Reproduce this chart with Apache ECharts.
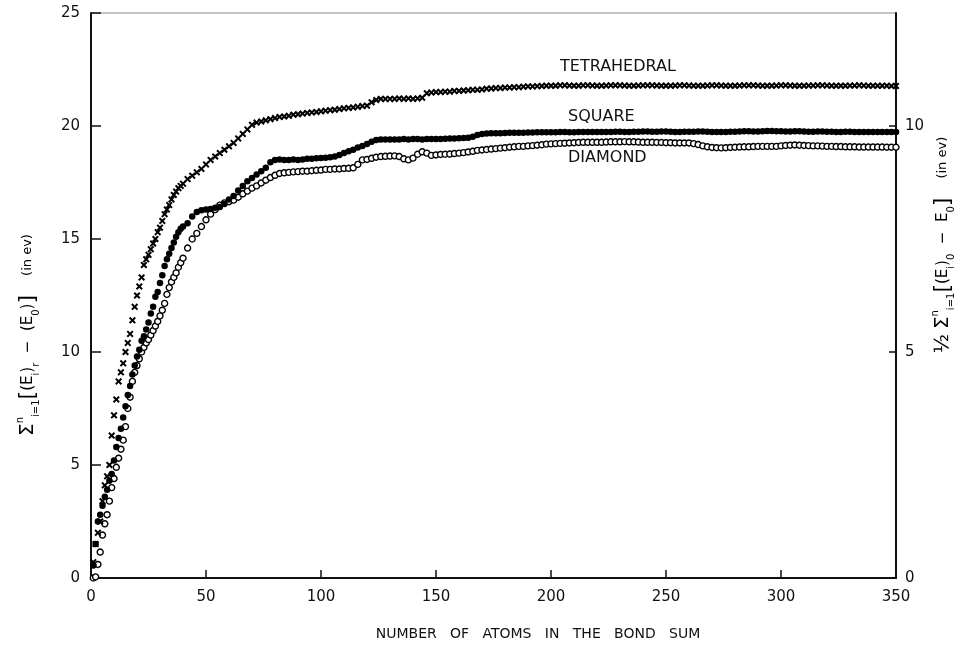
<!DOCTYPE html>
<html>
<head>
<meta charset="utf-8">
<script src="https://cdn.jsdelivr.net/npm/echarts@6/dist/echarts.min.js"></script>
<style>
  html, body { margin: 0; padding: 0; background: #fff; }
  #chart { width: 969px; height: 646px; }
</style>
</head>
<body>
<div id="chart"></div>
<script>
// number of atoms in the bond sum (one point per atom early on, then every 2nd)
const atoms = [
  1, 2, 3, 4, 5, 6, 7, 8, 9, 10, 11, 12, 13, 14, 15, 16, 17, 18, 19, 20,
  21, 22, 23, 24, 25, 26, 27, 28, 29, 30, 31, 32, 33, 34, 35, 36, 37, 38, 39, 40,
  42, 44, 46, 48, 50, 52, 54, 56, 58, 60, 62, 64, 66, 68, 70, 72, 74, 76, 78, 80,
  82, 84, 86, 88, 90, 92, 94, 96, 98, 100,
  102, 104, 106, 108, 110, 112, 114, 116, 118, 120, 122, 124, 126, 128, 130, 132, 134, 136, 138, 140,
  142, 144, 146, 148, 150, 152, 154, 156, 158, 160, 162, 164, 166, 168, 170, 172, 174, 176, 178, 180,
  182, 184, 186, 188, 190, 192, 194, 196, 198, 200,
  202, 204, 206, 208, 210, 212, 214, 216, 218, 220, 222, 224, 226, 228, 230, 232, 234, 236, 238, 240,
  242, 244, 246, 248, 250, 252, 254, 256, 258, 260, 262, 264, 266, 268, 270, 272, 274, 276, 278, 280,
  282, 284, 286, 288, 290, 292, 294, 296, 298, 300, 302, 304, 306, 308, 310, 312, 314, 316, 318, 320,
  322, 324, 326, 328, 330, 332, 334, 336, 338, 340, 342, 344, 346, 348, 350
];

const tetrahedral = [
  0.7, 1.5, 2.0, 2.5, 3.4, 4.1, 4.5, 5.0, 6.3, 7.2, 7.9, 8.7, 9.1, 9.5, 10.0, 10.4, 10.8, 11.4, 12.0, 12.5,
  12.9, 13.3, 13.85, 14.1, 14.3, 14.55, 14.8, 15.0, 15.3, 15.5, 15.8, 16.1, 16.3, 16.5, 16.75, 16.95, 17.1, 17.25, 17.35, 17.45,
  17.65, 17.8, 17.95, 18.1, 18.3, 18.5, 18.65, 18.8, 18.95, 19.1, 19.25, 19.45, 19.65, 19.85, 20.05, 20.15, 20.2, 20.25, 20.3, 20.35,
  20.4, 20.42, 20.45, 20.5, 20.52, 20.55, 20.58, 20.6, 20.62, 20.65,
  20.68, 20.7, 20.72, 20.75, 20.78, 20.8, 20.82, 20.85, 20.88, 20.9, 21.05, 21.15, 21.2, 21.2, 21.2, 21.2, 21.22, 21.2, 21.22, 21.2,
  21.22, 21.25, 21.45, 21.48, 21.5, 21.5, 21.52, 21.52, 21.55, 21.55, 21.57, 21.58, 21.6, 21.6, 21.62, 21.65, 21.66, 21.68, 21.68, 21.7,
  21.7, 21.72, 21.72, 21.74, 21.75, 21.75, 21.76, 21.77, 21.78, 21.78,
  21.78, 21.8, 21.8, 21.79, 21.78, 21.78, 21.8, 21.8, 21.79, 21.78, 21.78, 21.79, 21.8, 21.8, 21.8, 21.79, 21.78, 21.78, 21.79, 21.8,
  21.8, 21.8, 21.79, 21.78, 21.78, 21.78, 21.79, 21.8, 21.8, 21.79, 21.78, 21.78, 21.78, 21.79, 21.8, 21.8, 21.79, 21.78, 21.78, 21.78,
  21.79, 21.8, 21.8, 21.8, 21.79, 21.78, 21.78, 21.78, 21.79, 21.8, 21.8, 21.79, 21.78, 21.78, 21.78, 21.79, 21.79, 21.8, 21.8, 21.79,
  21.78, 21.78, 21.78, 21.78, 21.79, 21.79, 21.8, 21.79, 21.78, 21.78, 21.78, 21.78, 21.78, 21.77, 21.77
];

const square = [
  0.55, 1.5, 2.5, 2.8, 3.2, 3.6, 3.9, 4.3, 4.6, 5.2, 5.8, 6.2, 6.6, 7.1, 7.6, 8.1, 8.5, 9.0, 9.4, 9.8,
  10.1, 10.5, 10.7, 11.0, 11.3, 11.7, 12.0, 12.45, 12.65, 13.05, 13.4, 13.8, 14.1, 14.35, 14.6, 14.85, 15.1, 15.3, 15.45, 15.55,
  15.7, 16.0, 16.2, 16.27, 16.3, 16.33, 16.38, 16.42, 16.55, 16.75, 16.9, 17.15, 17.35, 17.55, 17.7, 17.85, 18.0, 18.15, 18.4, 18.5,
  18.52, 18.5, 18.5, 18.52, 18.5, 18.52, 18.55, 18.55, 18.57, 18.58,
  18.6, 18.62, 18.65, 18.72, 18.8, 18.88, 18.95, 19.05, 19.12, 19.2, 19.3, 19.38, 19.4, 19.4, 19.4, 19.4, 19.4, 19.42, 19.4, 19.42,
  19.42, 19.4, 19.42, 19.42, 19.43, 19.43, 19.44, 19.45, 19.45, 19.46, 19.47, 19.48, 19.52, 19.6, 19.65, 19.67, 19.68, 19.68, 19.68, 19.69,
  19.7, 19.7, 19.7, 19.7, 19.71, 19.71, 19.72, 19.72, 19.72, 19.72,
  19.72, 19.73, 19.73, 19.72, 19.72, 19.73, 19.74, 19.74, 19.73, 19.73, 19.73, 19.74, 19.74, 19.75, 19.75, 19.74, 19.74, 19.75, 19.75, 19.76,
  19.76, 19.75, 19.75, 19.76, 19.76, 19.75, 19.74, 19.74, 19.75, 19.75, 19.75, 19.76, 19.76, 19.75, 19.74, 19.74, 19.73, 19.74, 19.75, 19.75,
  19.76, 19.77, 19.77, 19.76, 19.76, 19.77, 19.78, 19.78, 19.77, 19.77, 19.76, 19.76, 19.77, 19.77, 19.76, 19.75, 19.75, 19.76, 19.76, 19.75,
  19.75, 19.74, 19.74, 19.75, 19.75, 19.74, 19.74, 19.73, 19.73, 19.74, 19.74, 19.73, 19.73, 19.73, 19.73
];

const diamond = [
  0.0, 0.05, 0.6, 1.15, 1.9, 2.4, 2.8, 3.4, 4.0, 4.4, 4.9, 5.3, 5.7, 6.1, 6.7, 7.5, 8.0, 8.7, 9.1, 9.4,
  9.7, 10.0, 10.2, 10.4, 10.55, 10.75, 10.95, 11.15, 11.35, 11.6, 11.85, 12.15, 12.55, 12.85, 13.1, 13.3, 13.5, 13.75, 13.95, 14.15,
  14.6, 15.0, 15.25, 15.55, 15.85, 16.1, 16.3, 16.5, 16.6, 16.65, 16.72, 16.85, 17.0, 17.12, 17.25, 17.35, 17.48, 17.6, 17.72, 17.82,
  17.9, 17.93, 17.95, 17.97, 17.98, 18.0, 18.0, 18.02, 18.04, 18.05,
  18.08, 18.08, 18.1, 18.1, 18.12, 18.13, 18.15, 18.3, 18.5, 18.52, 18.57, 18.62, 18.65, 18.66, 18.67, 18.68, 18.65, 18.55, 18.5, 18.58,
  18.75, 18.86, 18.8, 18.7, 18.72, 18.74, 18.75, 18.76, 18.78, 18.8, 18.82, 18.85, 18.88, 18.92, 18.94, 18.96, 18.98, 19.0, 19.02, 19.04,
  19.06, 19.08, 19.1, 19.1, 19.12, 19.13, 19.15, 19.17, 19.2, 19.21,
  19.22, 19.23, 19.24, 19.25, 19.26, 19.27, 19.28, 19.28, 19.28, 19.28, 19.28, 19.29, 19.3, 19.3, 19.3, 19.31, 19.3, 19.3, 19.29, 19.28,
  19.28, 19.28, 19.27, 19.27, 19.26, 19.26, 19.25, 19.25, 19.25, 19.25, 19.22, 19.18, 19.12, 19.08, 19.05, 19.04, 19.03, 19.04, 19.05, 19.06,
  19.07, 19.08, 19.08, 19.09, 19.1, 19.1, 19.1, 19.1, 19.1, 19.12, 19.14, 19.15, 19.16, 19.15, 19.14, 19.13, 19.12, 19.12, 19.11, 19.1,
  19.1, 19.09, 19.09, 19.08, 19.08, 19.08, 19.07, 19.07, 19.07, 19.07, 19.07, 19.07, 19.06, 19.06, 19.06
];

const curveNames = ['TETRAHEDRAL', 'SQUARE', 'DIAMOND'];
const xTitle = 'NUMBER   OF   ATOMS   IN   THE   BOND   SUM';

const FONT = 'DejaVu Sans';
const INK = '#111';

const pairs = ys => atoms.map((n, i) => [n, ys[i]]);

// cross marker for the tetrahedral curve (thick arms)
const CROSS = 'path://M0,2L2,0L5,3L8,0L10,2L7,5L10,8L8,10L5,7L2,10L0,8L3,5Z';

const mathRich = {
  t: { fontFamily: FONT, fontSize: 15, color: INK, lineHeight: 26 },
  sig: { fontFamily: FONT, fontSize: 20, color: INK, lineHeight: 26 },
  br: { fontFamily: FONT, fontSize: 22, color: INK, lineHeight: 26 },
  frac: { fontFamily: FONT, fontSize: 20, color: INK, lineHeight: 26 },
  sub: { fontFamily: FONT, fontSize: 10, color: INK, lineHeight: 12, verticalAlign: 'bottom' },
  sup: { fontFamily: FONT, fontSize: 10, color: INK, lineHeight: 12, verticalAlign: 'top' },
  u: { fontFamily: FONT, fontSize: 13, color: INK, lineHeight: 26 }
};

const chart = echarts.init(document.getElementById('chart'));

chart.setOption({
  animation: false,
  backgroundColor: '#fff',
  grid: {
    left: 91, right: 73, top: 13, bottom: 68,
    show: true, borderColor: '#888', borderWidth: 1
  },
  xAxis: {
    type: 'value', min: 0, max: 350, interval: 50,
    axisLine: { lineStyle: { color: INK, width: 2 } },
    axisTick: { inside: true, length: 8, lineStyle: { color: INK, width: 1.5 } },
    axisLabel: { margin: 12, fontFamily: FONT, fontSize: 15, color: INK },
    splitLine: { show: false }
  },
  yAxis: [
    {
      type: 'value', min: 0, max: 25, interval: 5, position: 'left',
      axisLine: { show: true, lineStyle: { color: INK, width: 2 } },
      axisTick: { show: true, inside: true, length: 10, lineStyle: { color: INK, width: 1.5 } },
      axisLabel: { margin: 11, fontFamily: FONT, fontSize: 15, color: INK },
      splitLine: { show: false }
    },
    {
      type: 'value', min: 0, max: 12.5, interval: 5, position: 'right',
      axisLine: { show: true, lineStyle: { color: INK, width: 2 } },
      axisTick: { show: true, inside: true, length: 7, lineStyle: { color: INK, width: 1.5 } },
      axisLabel: { margin: 9, fontFamily: FONT, fontSize: 15, color: INK, showMaxLabel: false },
      splitLine: { show: false }
    }
  ],
  series: [
    {
      name: curveNames[2], type: 'scatter', data: pairs(diamond),
      symbol: 'circle', symbolSize: 6,
      itemStyle: { color: '#fff', borderColor: '#000', borderWidth: 1.4, opacity: 1 }
    },
    {
      name: curveNames[1], type: 'scatter', data: pairs(square),
      symbol: 'circle', symbolSize: 6.5,
      itemStyle: { color: '#000', opacity: 1 }
    },
    {
      name: curveNames[0], type: 'scatter', data: pairs(tetrahedral),
      symbol: CROSS, symbolSize: 7,
      itemStyle: { color: '#000', opacity: 1 }
    }
  ],
  graphic: [
    {
      type: 'text', left: 560, top: 59,
      style: { text: curveNames[0], fontFamily: FONT, fontSize: 16, fill: INK }
    },
    {
      type: 'text', left: 568, top: 109,
      style: { text: curveNames[1], fontFamily: FONT, fontSize: 16, fill: INK }
    },
    {
      type: 'text', left: 568, top: 150,
      style: { text: curveNames[2], fontFamily: FONT, fontSize: 16, fill: INK }
    },
    {
      // x axis title, sits right of centre as in the original
      type: 'text', x: 538, y: 634,
      style: {
        text: xTitle, fontFamily: FONT, fontSize: 14, fill: INK,
        align: 'center', verticalAlign: 'middle',
        textAlign: 'center', textVerticalAlign: 'middle'
      }
    },
    {
      // left axis title, reads bottom to top
      type: 'text', x: 28, y: 335, rotation: Math.PI / 2,
      style: {
        text: '{sig|Σ}{sup|n}{sub|i=1}{br|[}{t|(E}{sub|i}{t|)}{sub|r}{t|  −  (E}{sub|0}{t|)}{br|]}{t|    }{u|(in ev)}',
        rich: mathRich, align: 'center', verticalAlign: 'middle',
        textAlign: 'center', textVerticalAlign: 'middle'
      }
    },
    {
      // right axis title, reads bottom to top
      type: 'text', x: 943, y: 245, rotation: Math.PI / 2,
      style: {
        text: '{frac|½}{t| }{sig|Σ}{sup|n}{sub|i=1}{br|[}{t|(E}{sub|i}{t|)}{sub|0}{t|  −  E}{sub|0}{br|]}{t|    }{u|(in ev)}',
        rich: mathRich, align: 'center', verticalAlign: 'middle',
        textAlign: 'center', textVerticalAlign: 'middle'
      }
    }
  ]
});
</script>
</body>
</html>
